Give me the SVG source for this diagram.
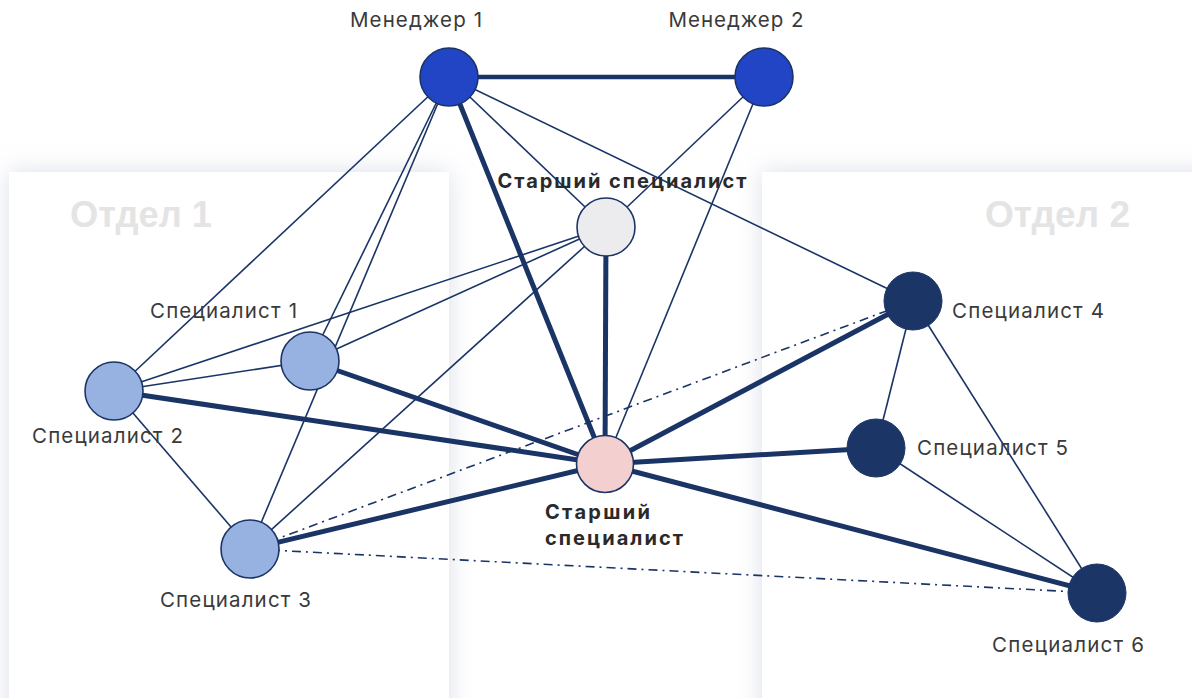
<svg xmlns="http://www.w3.org/2000/svg" width="1192" height="698" viewBox="0 0 1192 698">
<defs>
<filter id="shadow" x="-20%" y="-20%" width="140%" height="140%">
<feDropShadow dx="0" dy="0" stdDeviation="12" flood-color="#c3c9d8" flood-opacity="0.6"/>
</filter>
<style>
.thin{stroke:#1a3466;stroke-width:1.6;fill:none}
.thick{stroke:#1a3466;stroke-width:5;fill:none}
.dd{stroke:#1a3466;stroke-width:1.6;fill:none;stroke-dasharray:9 5 2 5}
.lbl{font-family:Inter,"Open Sans","Liberation Sans",sans-serif;font-size:20.5px;fill:#3a3a3a}
.bold{font-family:Inter,"Open Sans","Liberation Sans",sans-serif;font-size:20px;font-weight:700;fill:#2a2a2a}
.dept{font-family:"Liberation Sans",Arial,sans-serif;font-size:36px;font-weight:700;fill:#e4e4e4}
.nav{stroke:#1a3466;stroke-width:1.6}
</style>
</defs>
<rect x="0" y="0" width="1192" height="698" fill="#ffffff"/>
<g id="panels">
<rect x="9" y="172" width="440" height="600" fill="#ffffff" filter="url(#shadow)"/>
<rect x="762" y="172" width="480" height="600" fill="#ffffff" filter="url(#shadow)"/>
<text class="dept" x="70" y="227" textLength="142" lengthAdjust="spacingAndGlyphs">Отдел 1</text>
<text class="dept" x="985" y="227" textLength="145" lengthAdjust="spacingAndGlyphs">Отдел 2</text>
</g>
<g id="connectors">
<line class="thick" x1="449" y1="77" x2="764" y2="77" style="stroke-width:4.5"/>
<line class="thin" x1="449" y1="77" x2="114" y2="391"/>
<line class="thin" x1="449" y1="77" x2="310" y2="361"/>
<line class="thin" x1="449" y1="77" x2="250" y2="549"/>
<line class="thick" x1="449" y1="77" x2="605" y2="464"/>
<line class="thin" x1="449" y1="77" x2="606" y2="227"/>
<line class="thin" x1="449" y1="77" x2="913" y2="301"/>
<line class="thin" x1="764" y1="77" x2="606" y2="227"/>
<line class="thin" x1="764" y1="77" x2="605" y2="464"/>
<line class="thick" x1="606" y1="227" x2="605" y2="464"/>
<line class="thin" x1="606" y1="227" x2="114" y2="391"/>
<line class="thin" x1="606" y1="227" x2="310" y2="361"/>
<line class="thin" x1="606" y1="227" x2="250" y2="549"/>
<line class="thin" x1="310" y1="361" x2="114" y2="391"/>
<line class="thin" x1="114" y1="391" x2="250" y2="549"/>
<line class="thick" x1="114" y1="391" x2="605" y2="464"/>
<line class="thick" x1="310" y1="361" x2="605" y2="464"/>
<line class="thick" x1="250" y1="549" x2="605" y2="464"/>
<line class="dd" x1="250" y1="549" x2="913" y2="301"/>
<line class="dd" x1="250" y1="549" x2="1097" y2="593"/>
<line class="thick" x1="605" y1="464" x2="913" y2="301"/>
<line class="thick" x1="605" y1="464" x2="876" y2="448"/>
<line class="thick" x1="605" y1="464" x2="1097" y2="593"/>
<line class="thin" x1="913" y1="301" x2="876" y2="448"/>
<line class="thin" x1="913" y1="301" x2="1097" y2="593"/>
<line class="thin" x1="876" y1="448" x2="1097" y2="593"/>
</g>
<g id="manager1">
<circle cx="449" cy="77" r="29" fill="#2145c4" class="nav"/>
<text class="lbl" x="416" y="27" text-anchor="middle" textLength="132">Менеджер 1</text>
</g>
<g id="manager2">
<circle cx="764" cy="77" r="29" fill="#2145c4" class="nav"/>
<text class="lbl" x="736" y="27" text-anchor="middle" textLength="135">Менеджер 2</text>
</g>
<g id="senior-top">
<circle cx="606" cy="227" r="29" fill="#ececef" class="nav"/>
<text class="bold" x="622" y="188" text-anchor="middle" textLength="249">Старший специалист</text>
</g>
<g id="senior-bottom">
<circle cx="605" cy="464" r="28.5" fill="#f4cfcf" class="nav"/>
<text class="bold" x="545" y="519" textLength="105">Старший</text>
<text class="bold" x="545" y="545" textLength="138">специалист</text>
</g>
<g id="spec1">
<circle cx="310" cy="361" r="29" fill="#97b2e1" class="nav"/>
<text class="lbl" x="150" y="318" textLength="147">Специалист 1</text>
</g>
<g id="spec2">
<circle cx="114" cy="391" r="29" fill="#97b2e1" class="nav"/>
<text class="lbl" x="32" y="443" textLength="151">Специалист 2</text>
</g>
<g id="spec3">
<circle cx="250" cy="549" r="29" fill="#97b2e1" class="nav"/>
<text class="lbl" x="160" y="607" textLength="151">Специалист 3</text>
</g>
<g id="spec4">
<circle cx="913" cy="301" r="29" fill="#1b3566" stroke="#1b3566" stroke-width="1"/>
<text class="lbl" x="952" y="318" textLength="152">Специалист 4</text>
</g>
<g id="spec5">
<circle cx="876" cy="448" r="29" fill="#1b3566" stroke="#1b3566" stroke-width="1"/>
<text class="lbl" x="917" y="455" textLength="151">Специалист 5</text>
</g>
<g id="spec6">
<circle cx="1097" cy="593" r="29" fill="#1b3566" stroke="#1b3566" stroke-width="1"/>
<text class="lbl" x="992" y="652" textLength="152">Специалист 6</text>
</g>
</svg>
